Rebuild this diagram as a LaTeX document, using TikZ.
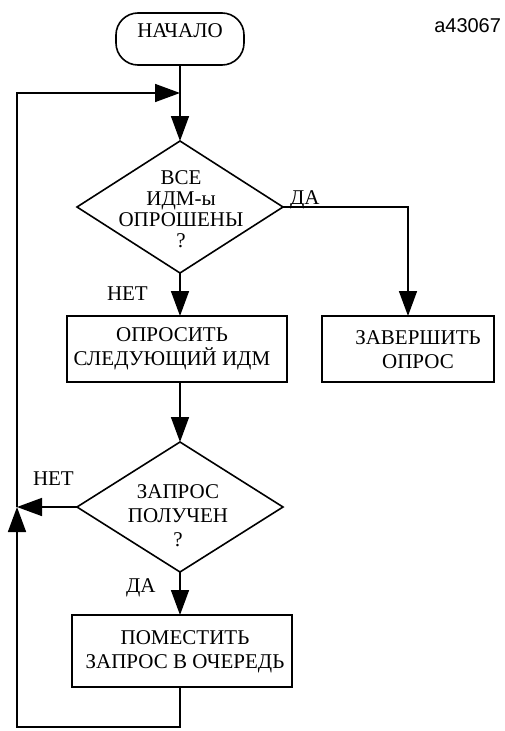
\documentclass[tikz,border=0pt]{standalone}
\usepackage{fontspec}
\setmainfont{Liberation Serif}
\newfontfamily\labelsans{Liberation Sans}
\usetikzlibrary{arrows.meta,shapes.geometric}

\begin{document}
\begin{tikzpicture}[x=1pt,y=-1pt,
  line width=1.6pt,
  every node/.style={inner sep=0pt,outer sep=0pt},
  flowline/.style={line width=1.6pt},
  flowarrow/.style={flowline,-{Triangle[length=25pt,width=18pt]}},
  terminal/.style={draw,line width=1.6pt,rectangle,rounded corners=22pt,
    minimum width=128pt,minimum height=52pt},
  decision/.style={draw,line width=1.6pt,diamond,
    minimum width=206pt,minimum height=132pt},
  process/.style={draw,line width=1.6pt,rectangle,minimum height=66pt},
  blocktext/.style={align=center,font=\fontsize{21pt}{24pt}\selectfont},
  tighttext/.style={align=center,font=\fontsize{21pt}{21pt}\selectfont},
  branchlabel/.style={font=\fontsize{21pt}{24pt}\selectfont}
]
\useasboundingbox (0,0) rectangle (504,731);

% figure number
\node[anchor=base east,font=\labelsans\fontsize{20pt}{24pt}\selectfont] (figno) at (501,32) {a43067};

% shapes
\node[terminal] (start) at (180,39) {};
\node[decision] (d1) at (180,207) {};
\node[process,minimum width=220pt] (b1) at (177,349) {};
\node[process,minimum width=172pt] (b2) at (408,349) {};
\node[decision,minimum height=130pt] (d2) at (180,507) {};
\node[process,minimum width=220pt,minimum height=72pt] (b3) at (182,651) {};

% texts
\node[blocktext] (tstart) at (180,31) {НАЧАЛО};
\node[tighttext] (td1) at (181,209) {ВСЕ\\ИДМ-ы\\ОПРОШЕНЫ\\?};
\node[blocktext] (tb1) at (172,349) {ОПРОСИТЬ\\СЛЕДУЮЩИЙ ИДМ};
\node[blocktext] (tb2) at (418,350) {ЗАВЕРШИТЬ\\ОПРОС};
\node[blocktext] (td2) at (178,516) {ЗАПРОС\\ПОЛУЧЕН\\?};
\node[blocktext] (tb3) at (185,652) {ПОМЕСТИТЬ\\ЗАПРОС В ОЧЕРЕДЬ};

% branch labels
\node[branchlabel,anchor=base west] (yes1) at (290,204) {ДА};
\node[branchlabel,anchor=base west] (no1) at (107,300) {НЕТ};
\node[branchlabel,anchor=base west] (no2) at (33,485) {НЕТ};
\node[branchlabel,anchor=base west] (yes2) at (126,592) {ДА};

% loop corners
\coordinate (join) at (180,93);
\coordinate (loopTL) at (17,93);
\coordinate (loopMid) at (17,507);
\coordinate (loopBL) at (17,727);

% connectors
\draw[flowline] (start.south) -- (join);
\draw[flowarrow] (join) -- (d1.north);
\draw[flowarrow] (d1.south) -- (d1.south |- b1.north);
\draw[flowarrow] (d1.east) -| (b2.north);
\draw[flowarrow] (d1.south |- b1.south) -- (d2.north);
\draw[flowarrow] (d2.west) -- (loopMid);
\draw[flowarrow] (d2.south) -- (d2.south |- b3.north);
\draw[flowarrow] (d2.south |- b3.south) |- (loopBL) -- (loopMid);
\draw[flowarrow] (loopMid) -- (loopTL) -- (join);
\end{tikzpicture}
\end{document}
